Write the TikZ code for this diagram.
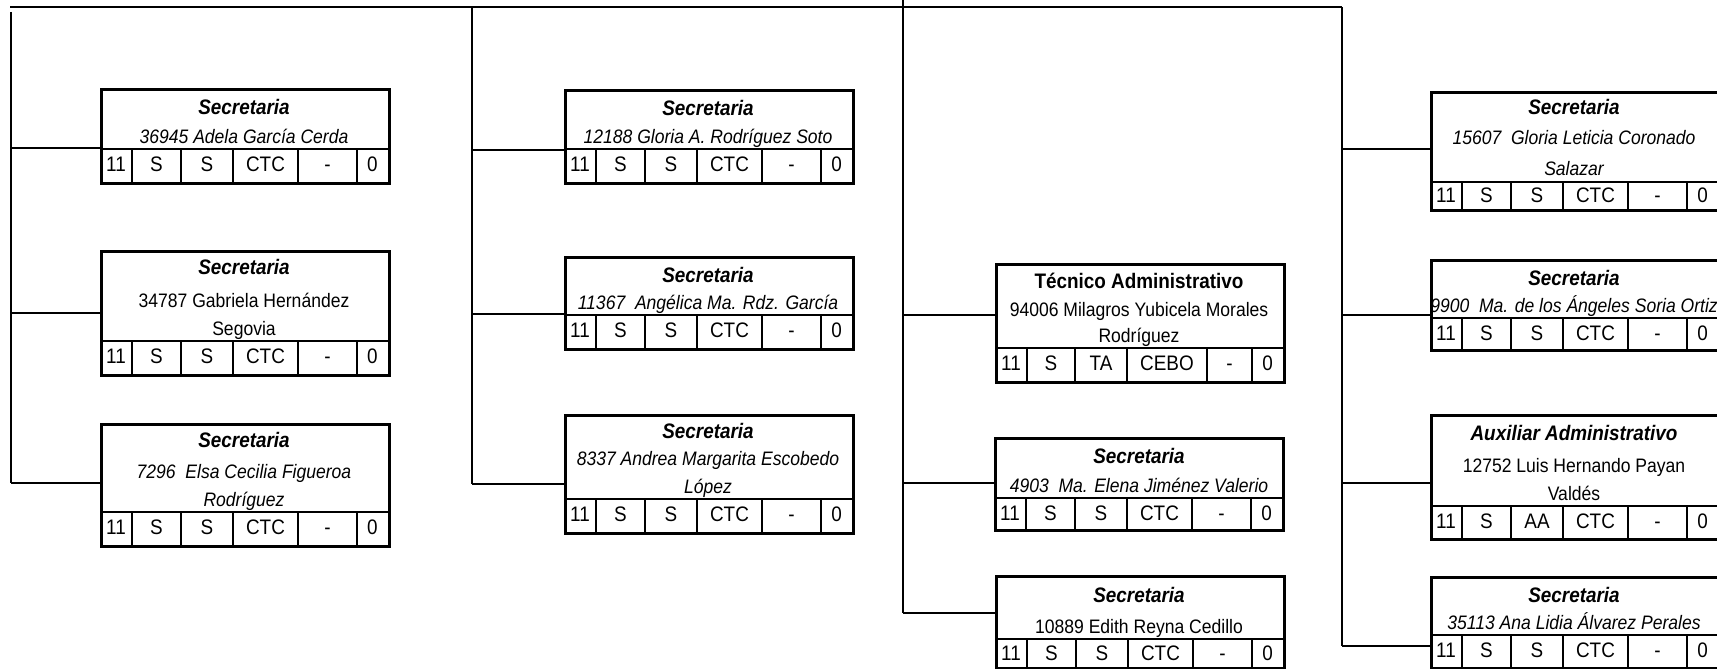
\documentclass[tikz,border=0pt]{standalone}
\usepackage{fontspec}
\setmainfont{Liberation Sans}[FakeStretch=0.9]
\tikzset{
  ln/.style={line width=2.5pt},
  boxframe/.style={draw, line width=2.6pt, rectangle, inner sep=0pt, minimum width=288pt, anchor=north west},
  ttl/.style={anchor=base, inner sep=0pt, font=\fontsize{21}{24}\selectfont\bfseries\itshape},
  ttlu/.style={anchor=base, inner sep=0pt, font=\fontsize{21}{24}\selectfont\bfseries},
  nmi/.style={anchor=base, inner sep=0pt, font=\fontsize{19.5}{23}\selectfont\itshape},
  nmu/.style={anchor=base, inner sep=0pt, font=\fontsize{19.5}{23}\selectfont},
  cell/.style={anchor=base, inner sep=0pt, font=\fontsize{21}{24}\selectfont},
}
\def\stdcells{0/32/11,32/81/S,81/133/S,133/198/CTC,198/257/-,257/288/0}
\def\tacells{0/32/11,32/80/S,80/132/TA,132/212/CEBO,212/257/-,257/288/0}
\def\aacells{0/32/11,32/81/S,81/133/AA,133/198/CTC,198/257/-,257/288/0}
\newcommand{\orgbox}[7]{%
  \node[boxframe, minimum height={#5pt-#3pt}] (#1) at (#2,#3) {};
  \draw[ln] (#2,#4) -- (#2+288,#4);
  \foreach \a/\b/\t [count=\i] in #6 {
    \ifnum\i>1 \draw[ln] (#2+\a,#4) -- (#2+\a,#5); \fi
    \node[cell] (#1-c\i) at ({#2+(\a+\b)/2},#4+#7) {\t};
  }
}
\begin{document}
\begin{tikzpicture}[x=1pt,y=-1pt]
\useasboundingbox (0,0) rectangle (1717,669);
% boxes
\orgbox{A1}{100}{88}{149}{182}{\stdcells}{22}
\orgbox{A2}{100}{250}{341}{374}{\stdcells}{22}
\orgbox{A3}{100}{423}{512}{545}{\stdcells}{22}
\orgbox{B1}{564}{89}{149}{182}{\stdcells}{22}
\orgbox{B2}{564}{256}{315}{348}{\stdcells}{22}
\orgbox{B3}{564}{414}{499}{532}{\stdcells}{22}
\orgbox{C1}{995}{263}{348}{381}{\tacells}{22}
\orgbox{C2}{994}{437}{498}{529}{\stdcells}{22}
\orgbox{C3}{995}{575}{639}{667}{\stdcells}{21}
\orgbox{D1}{1430}{91}{182}{209}{\stdcells}{20}
\orgbox{D2}{1430}{259}{318}{349}{\stdcells}{22}
\orgbox{D3}{1430}{414}{506}{538}{\aacells}{22}
\orgbox{D4}{1430}{576}{635}{667}{\stdcells}{22}
% texts column A
\node[ttl] (A1t) at (244,114) {Secretaria};
\node[nmi] (A1n) at (244,143) {36945 Adela García Cerda};
\node[ttl] (A2t) at (244,274) {Secretaria};
\node[nmu] (A2n) at (244,307) {34787 Gabriela Hernández};
\node[nmu] (A2m) at (244,335) {Segovia};
\node[ttl] (A3t) at (244,447) {Secretaria};
\node[nmi] (A3n) at (244,478) {7296~ Elsa Cecilia Figueroa};
\node[nmi] (A3m) at (244,506) {Rodríguez};
% column B
\node[ttl] (B1t) at (708,115) {Secretaria};
\node[nmi] (B1n) at (708,143) {12188 Gloria A. Rodríguez Soto};
\node[ttl] (B2t) at (708,282) {Secretaria};
\node[nmi] (B2n) at (708,309) {11367~ Angélica Ma. Rdz. García};
\node[ttl] (B3t) at (708,438) {Secretaria};
\node[nmi] (B3n) at (708,465) {8337 Andrea Margarita Escobedo};
\node[nmi] (B3m) at (708,493) {López};
% column C
\node[ttlu] (C1t) at (1139,288) {Técnico Administrativo};
\node[nmu] (C1n) at (1139,316) {94006 Milagros Yubicela Morales};
\node[nmu] (C1m) at (1139,342) {Rodríguez};
\node[ttl] (C2t) at (1139,463) {Secretaria};
\node[nmi] (C2n) at (1139,492) {4903~ Ma. Elena Jiménez Valerio};
\node[ttl] (C3t) at (1139,602) {Secretaria};
\node[nmu] (C3n) at (1139,633) {10889 Edith Reyna Cedillo};
% column D
\node[ttl] (D1t) at (1574,114) {Secretaria};
\node[nmi] (D1n) at (1574,144) {15607~ Gloria Leticia Coronado};
\node[nmi] (D1m) at (1574,175) {Salazar};
\node[ttl] (D2t) at (1574,285) {Secretaria};
\node[nmi] (D2n) at (1574,312) {9900~ Ma. de los Ángeles Soria Ortiz};
\node[ttl] (D3t) at (1574,440) {Auxiliar Administrativo};
\node[nmu] (D3n) at (1574,472) {12752 Luis Hernando Payan};
\node[nmu] (D3m) at (1574,500) {Valdés};
\node[ttl] (D4t) at (1574,602) {Secretaria};
\node[nmi] (D4n) at (1574,629) {35113 Ana Lidia Álvarez Perales};
% trunk and junction coordinates
\coordinate (topL) at (10,7);
\coordinate (topR) at (1342,7);
\coordinate (tick) at (903,0);
\coordinate (t1) at (11,12);
\coordinate (t2) at (472,7);
\coordinate (t4) at (1342,7);
\coordinate (jA1) at (11,148);
\coordinate (jA2) at (11,313);
\coordinate (jA3) at (11,483);
\coordinate (jB1) at (472,150);
\coordinate (jB2) at (472,314);
\coordinate (jB3) at (472,484);
\coordinate (jC1) at (903,315);
\coordinate (jC2) at (903,483);
\coordinate (jC3) at (903,613);
\coordinate (jD1) at (1342,149);
\coordinate (jD2) at (1342,315);
\coordinate (jD3) at (1342,483);
\coordinate (jD4) at (1342,646);
\draw[ln] (topL) -- (topR);
\draw[ln] (tick) -- (jC3);
\draw[ln] (t1) -- (jA3);
\draw[ln] (t2) -- (jB3);
\draw[ln] (t4) -- (jD4);
\foreach \b in {A1,A2,A3,B1,B2,B3,C1,C2,C3,D1,D2,D3,D4}
  \draw[ln] (j\b) -- (\b.west |- j\b);
\end{tikzpicture}
\end{document}
